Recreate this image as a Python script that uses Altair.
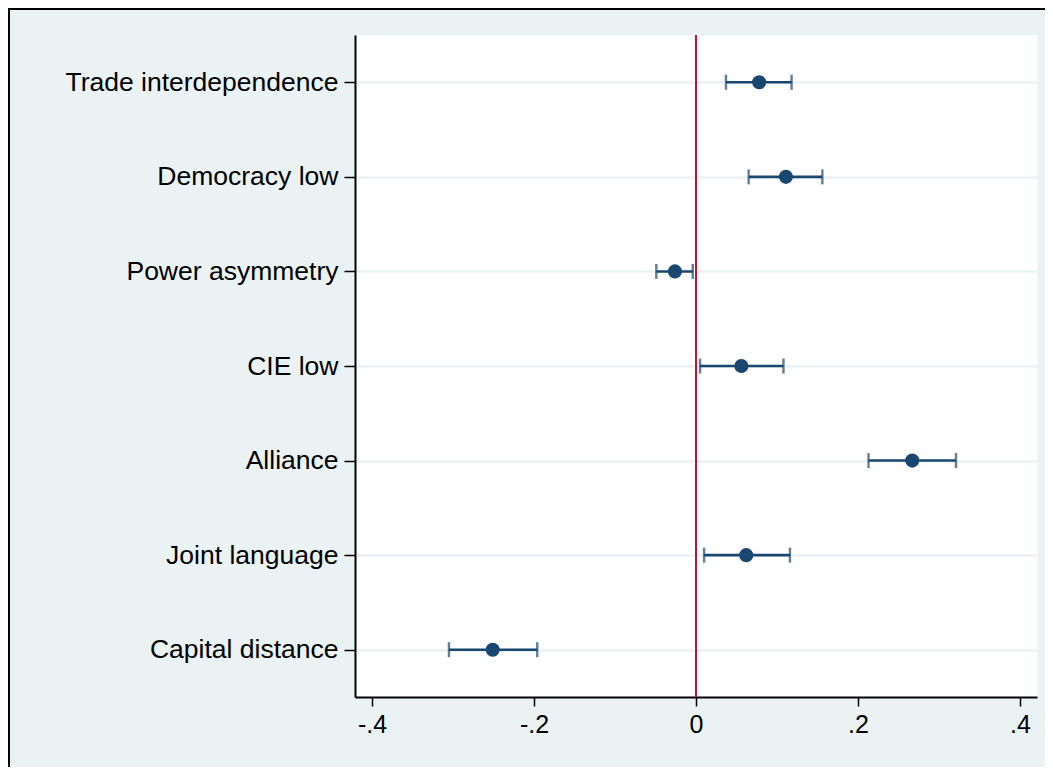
import altair as alt
import pandas as pd

labels = ["Trade interdependence", "Democracy low", "Power asymmetry", "CIE low",
          "Alliance", "Joint language", "Capital distance"]
coef = [0.078, 0.111, -0.026, 0.056, 0.267, 0.062, -0.251]
lo = [0.037, 0.065, -0.049, 0.005, 0.213, 0.010, -0.305]
hi = [0.118, 0.156, -0.004, 0.108, 0.321, 0.116, -0.196]
tick_values = [-0.4, -0.2, 0, 0.2, 0.4]
tick_labels = ["-.4", "-.2", "0", ".2", ".4"]

df = pd.DataFrame({"var": labels, "coef": coef, "lo": lo, "hi": hi})

BG = "#EAF2F3"
NAVY = "#1A476F"
RED = "#C8102E"
FONT = "Liberation Sans"

label_list = "[" + ",".join("'" + t + "'" for t in tick_labels) + "]"

x_scale = alt.Scale(domain=[-0.421, 0.421], nice=False, zero=False)
y_enc = alt.Y(
    "var:N",
    sort=labels,
    scale=alt.Scale(type="point", padding=0.5),
    axis=alt.Axis(
        title=None,
        grid=True,
        gridColor=BG,
        gridWidth=2.5,
        domain=True,
        domainColor="black",
        domainWidth=2,
        ticks=True,
        tickColor="black",
        tickWidth=1.5,
        tickSize=11,
        labelPadding=6,
        labelFont=FONT,
        labelFontSize=26.5,
        labelColor="black",
        labelLimit=400,
    ),
)

base = alt.Chart(df)

bars = base.mark_rule(color=NAVY, strokeWidth=2.6).encode(
    x=alt.X("lo:Q", scale=x_scale,
            axis=alt.Axis(
                title=None,
                values=tick_values,
                labelExpr=label_list + "[round(datum.value*5)+2]",
                grid=False,
                domain=True,
                domainColor="black",
                domainWidth=2,
                ticks=True,
                tickColor="black",
                tickWidth=1.5,
                tickSize=9,
                labelPadding=6,
                labelFont=FONT,
                labelFontSize=25,
                labelColor="black",
                labelFlush=False,
            )),
    x2="hi:Q",
    y=y_enc,
)

cap_lo = base.mark_tick(color=NAVY, thickness=2.4, size=15, orient="vertical").encode(
    x=alt.X("lo:Q", scale=x_scale), y=alt.Y("var:N", sort=labels))
cap_hi = base.mark_tick(color=NAVY, thickness=2.4, size=15, orient="vertical").encode(
    x=alt.X("hi:Q", scale=x_scale), y=alt.Y("var:N", sort=labels))

pts = base.mark_circle(color=NAVY, opacity=1, size=200).encode(
    x=alt.X("coef:Q", scale=x_scale), y=alt.Y("var:N", sort=labels))

zero_df = pd.DataFrame({"z": [0]})
zero = alt.Chart(zero_df).mark_rule(color=RED, strokeWidth=2).encode(
    x=alt.X("z:Q", scale=x_scale))

border_top = alt.Chart(zero_df).mark_rule(color="black", strokeWidth=2).encode(
    x=alt.value(-346), x2=alt.value(700), y=alt.value(-26))
border_left = alt.Chart(zero_df).mark_rule(color="black", strokeWidth=2).encode(
    x=alt.value(-346), y=alt.value(-27), y2=alt.value(740))

chart = alt.layer(bars, zero, cap_lo, cap_hi, pts, border_top, border_left).properties(
    width=682,
    height=662,
    background=BG,
    autosize=alt.AutoSizeParams(type="none"),
    padding={"left": 347, "top": 27, "right": 8, "bottom": 70},
).configure_view(
    stroke="transparent",
    fill="white",
)

chart.save("out.html", embed_options={"renderer": "svg", "actions": False})
